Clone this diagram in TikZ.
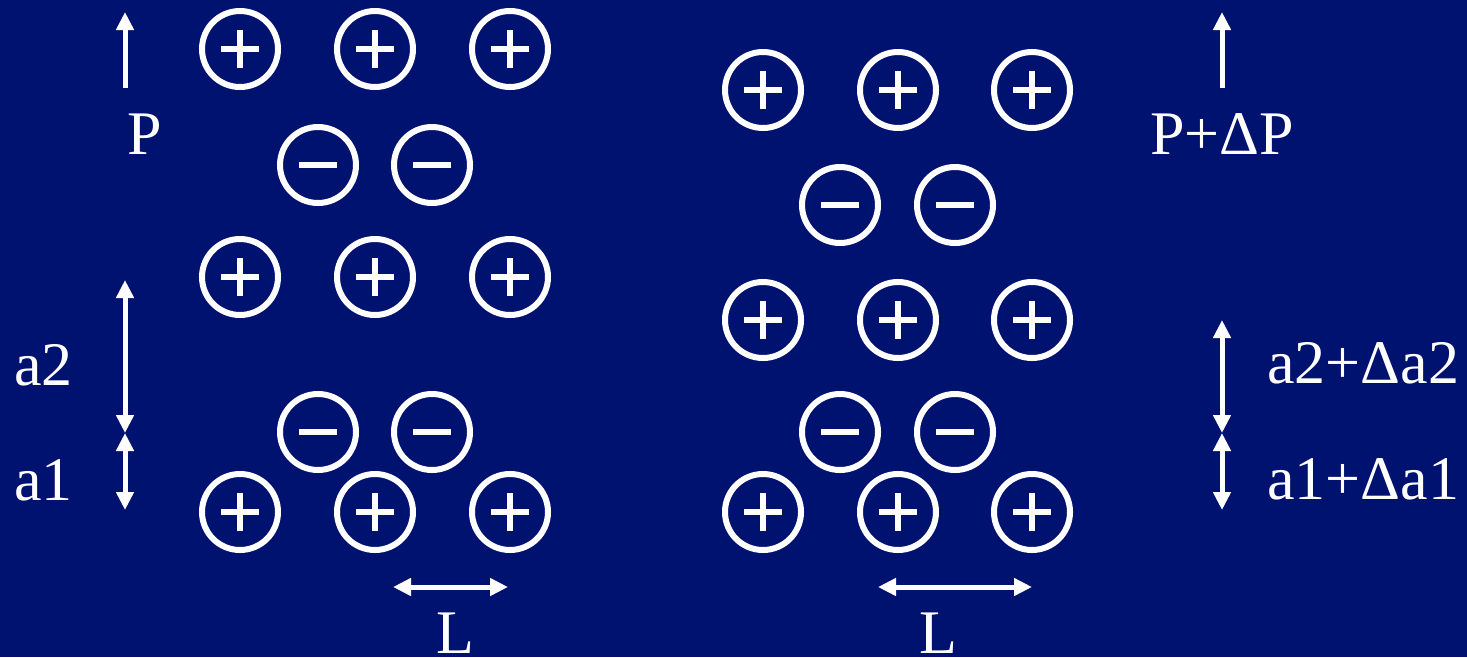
\documentclass[tikz,border=0pt]{standalone}
\usepackage{fontspec}
\setmainfont{Liberation Serif}
\usetikzlibrary{arrows.meta}
\definecolor{slideblue}{RGB}{0,18,112}

\begin{document}
\begin{tikzpicture}[x=1pt, y=-1pt,
    ion/.style={circle, draw=white, line width=6pt, minimum size=76pt, inner sep=0pt},
    cation/.style={ion, path picture={\draw[white, line width=6pt]
        ([xshift=-19pt]path picture bounding box.center) -- ([xshift=19pt]path picture bounding box.center)
        ([yshift=-19pt]path picture bounding box.center) -- ([yshift=19pt]path picture bounding box.center);}},
    anion/.style={ion, path picture={\draw[white, line width=6pt]
        ([xshift=-19pt]path picture bounding box.center) -- ([xshift=19pt]path picture bounding box.center);}},
    arr/.style={white, line width=5pt, -{Triangle[length=18pt, width=17pt]}},
    darr/.style={white, line width=5pt, {Triangle[length=18pt, width=17pt]}-{Triangle[length=18pt, width=17pt]}},
    lbl/.style={text=white, inner sep=0pt, font=\fontsize{62}{70}\selectfont}
  ]
  \fill[slideblue] (0,0) rectangle (1467,657);

  \foreach \x [count=\i] in {240,375,510} {
    \node[cation] (lp1\i) at (\x,49) {};
    \node[cation] (lp2\i) at (\x,277) {};
    \node[cation] (lp3\i) at (\x,512) {};
  }
  \foreach \x [count=\i] in {318,432} {
    \node[anion] (ln1\i) at (\x,165) {};
    \node[anion] (ln2\i) at (\x,432) {};
  }
  \foreach \x [count=\i] in {763,898,1032} {
    \node[cation] (rp1\i) at (\x,90) {};
    \node[cation] (rp2\i) at (\x,320) {};
    \node[cation] (rp3\i) at (\x,512) {};
  }
  \foreach \x [count=\i] in {840,955} {
    \node[anion] (rn1\i) at (\x,205) {};
    \node[anion] (rn2\i) at (\x,432) {};
  }

  \coordinate (pl0) at (125,88);
  \coordinate (pl1) at (125,12);
  \coordinate (al0) at (125,280);
  \coordinate (al1) at (125,433);
  \coordinate (al2) at (125,510);
  \coordinate (ll0) at (393,587);
  \coordinate (ll1) at (508,587);
  \draw[arr] (pl0) -- (pl1);
  \draw[darr] (al0) -- (al1);
  \draw[darr] (al1) -- (al2);
  \draw[darr] (ll0) -- (ll1);

  \coordinate (pr0) at (1222,88);
  \coordinate (pr1) at (1222,12);
  \coordinate (ar0) at (1222,320);
  \coordinate (ar1) at (1222,433);
  \coordinate (ar2) at (1222,510);
  \coordinate (lr0) at (878,587);
  \coordinate (lr1) at (1032,587);
  \draw[arr] (pr0) -- (pr1);
  \draw[darr] (ar0) -- (ar1);
  \draw[darr] (ar1) -- (ar2);
  \draw[darr] (lr0) -- (lr1);

  \node[lbl, anchor=base] (pleft) at (145,154) {P};
  \node[lbl, anchor=base west] (a2left) at (14,385) {a2};
  \node[lbl, anchor=base west] (a1left) at (14,500) {a1};
  \node[lbl, anchor=base] (lleft) at (455,653) {L};

  \node[lbl, anchor=base west] (pright) at (1150,154) {P+ΔP};
  \node[lbl, anchor=base west] (a2right) at (1267,383) {a2+Δa2};
  \node[lbl, anchor=base west] (a1right) at (1267,499) {a1+Δa1};
  \node[lbl, anchor=base] (lright) at (938,653) {L};
\end{tikzpicture}
\end{document}
